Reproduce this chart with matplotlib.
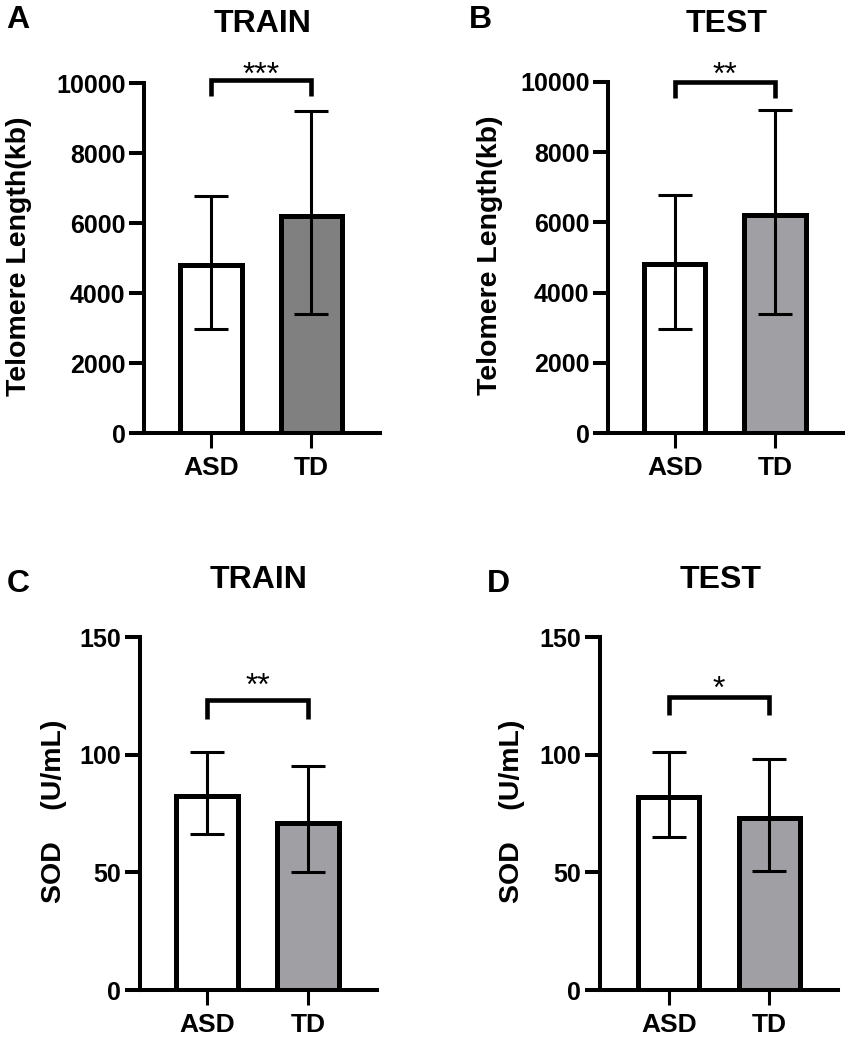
import matplotlib
matplotlib.use("Agg")
import matplotlib.pyplot as plt
import numpy as np

plt.rcParams['font.family'] = ['Liberation Sans', 'DejaVu Sans']

groups = ['ASD', 'TD']

# telomere length (kb): bar height, error bar top, error bar bottom
tl_train_mean = [4810, 6210]
tl_train_hi = [6780, 9210]
tl_train_lo = [2970, 3410]
tl_test_mean = [4810, 6210]
tl_test_hi = [6780, 9200]
tl_test_lo = [2960, 3400]

# SOD (U/mL)
sod_train_mean = [82.6, 71.2]
sod_train_hi = [101.2, 95.4]
sod_train_lo = [66.4, 50.1]
sod_test_mean = [81.9, 73.1]
sod_test_hi = [101.1, 98.1]
sod_test_lo = [65.2, 50.7]

stars = ['***', '**', '**', '*']

W, H = 851, 1040
fig = plt.figure(figsize=(W / 100, H / 100), dpi=100)


def px_axes(left, right, top, bottom):
    return fig.add_axes([left / W, 1 - bottom / H, (right - left) / W, (bottom - top) / H])


def panel(ax, mean, hi, lo, td_color, ymax, yticks, ylabel, xlim, star, br_top, br_leg, star_y, label_x):
    x = np.arange(len(groups))
    mean = np.array(mean)
    yerr = [mean - np.array(lo), np.array(hi) - mean]
    ax.bar(x, mean, width=0.61, color=['white', td_color], edgecolor='black',
           linewidth=3.6, zorder=2)
    ax.errorbar(x, mean, yerr=yerr, fmt='none', ecolor='black', elinewidth=2.2,
                capsize=12, capthick=2.2, zorder=3)
    ax.set_xlim(*xlim)
    ax.set_ylim(0, ymax)
    ax.set_yticks(yticks)
    ax.set_xticks(x)
    ax.set_xticklabels(groups, fontsize=19, fontweight='bold')
    for t in ax.get_yticklabels():
        t.set_fontsize(18)
        t.set_fontweight('bold')
    ax.spines['top'].set_visible(False)
    ax.spines['right'].set_visible(False)
    for s in ['left', 'bottom']:
        ax.spines[s].set_linewidth(2.9)
    ax.tick_params(axis='y', length=10.5, width=2.9, pad=3)
    ax.tick_params(axis='x', length=10.5, width=2.2, pad=6)
    ax.set_ylabel(ylabel, fontsize=20.5, fontweight='bold')
    ax.yaxis.set_label_coords(label_x, 0.507)
    # significance bracket
    ax.plot([0, 0, 1, 1], [br_leg, br_top, br_top, br_leg], color='black', lw=3.3,
            clip_on=False, solid_capstyle='butt', solid_joinstyle='miter', zorder=4)
    ax.annotate(star, xy=(0.5, star_y), xytext=(0, -13.5), textcoords='offset points',
                ha='center', va='baseline', fontsize=23, annotation_clip=False)


axA = px_axes(144.3, 380, 83.3, 433.3)
panel(axA, tl_train_mean, tl_train_hi, tl_train_lo, '#808080', 10000,
      [0, 2000, 4000, 6000, 8000, 10000], 'Telomere Length(kb)', (-0.665, 1.686),
      stars[0], 10095, 9650, 10523, -0.476)

axB = px_axes(608.3, 843.3, 81.7, 433.3)
panel(axB, tl_test_mean, tl_test_hi, tl_test_lo, '#a0a0a4', 10000,
      [0, 2000, 4000, 6000, 8000, 10000], 'Telomere Length(kb)', (-0.662, 1.681),
      stars[1], 9990, 9540, 10480, -0.447)

axC = px_axes(140, 376.7, 637.3, 990)
panel(axC, sod_train_mean, sod_train_hi, sod_train_lo, '#a0a0a4', 150,
      [0, 50, 100, 150], 'SOD    (U/mL)', (-0.663, 1.68),
      stars[2], 123.4, 115.1, 133.3, -0.31)

axD = px_axes(600, 838.3, 637.3, 990)
panel(axD, sod_test_mean, sod_test_hi, sod_test_lo, '#a0a0a4', 150,
      [0, 50, 100, 150], 'SOD    (U/mL)', (-0.683, 1.686),
      stars[3], 124.8, 117.0, 132.2, -0.315)

# panel titles and letters
titles = [('TRAIN', 263, 24), ('TEST', 727, 24), ('TRAIN', 258.5, 580), ('TEST', 721, 580)]
for txt, px, py in titles:
    fig.text(px / W, 1 - py / H, txt, ha='center', va='center', fontsize=23, fontweight='bold')

letters = [('A', 6, 20), ('B', 469, 20), ('C', 7, 584), ('D', 487, 584)]
for txt, px, py in letters:
    fig.text(px / W, 1 - py / H, txt, ha='left', va='center', fontsize=23, fontweight='bold')

fig.savefig('out.png', dpi=100)
